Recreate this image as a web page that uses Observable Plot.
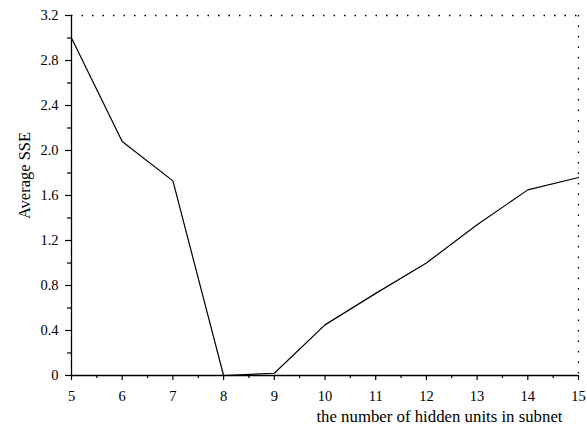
<!DOCTYPE html>
<html><head><meta charset="utf-8">
<script src="https://cdn.jsdelivr.net/npm/d3@7"></script>
<script src="https://cdn.jsdelivr.net/npm/@observablehq/plot@0.6"></script>
<style>body{margin:0;background:#fff;} svg{font-family:"Liberation Serif",serif;}</style>
</head><body><div id="chart"></div>
<script>
const hiddenUnits = [5, 6, 7, 8, 9, 10, 11, 12, 13, 14, 15];
const avgSSE = [3.0, 2.08, 1.73, 0.0, 0.02, 0.45, 0.73, 1.0, 1.34, 1.65, 1.76];
const yTicks = [0, 0.4, 0.8, 1.2, 1.6, 2.0, 2.4, 2.8, 3.2];
const yMinor = [0.2, 0.6, 1.0, 1.4, 1.8, 2.2, 2.6, 3.0];
const xTicks = [5, 6, 7, 8, 9, 10, 11, 12, 13, 14, 15];
const xMinor = [5.5, 6.5, 7.5, 8.5, 9.5, 10.5, 11.5, 12.5, 13.5, 14.5];
const data = hiddenUnits.map((x, i) => ({x, y: avgSSE[i]}));

const chart = Plot.plot({
  width: 587, height: 428,
  marginLeft: 71, marginRight: 9, marginTop: 15, marginBottom: 53,
  style: {fontFamily: "Liberation Serif, serif", fontSize: "14.5px", color: "#000", background: "#fff"},
  x: {domain: [5, 15]},
  y: {domain: [0, 3.2]},
  marks: [
    Plot.ruleY([3.2], {stroke: "#000", strokeDasharray: "1.5,9", strokeWidth: 1.3}),
    Plot.ruleX([15], {stroke: "#000", strokeDasharray: "1.5,9", strokeWidth: 1.3}),
    Plot.axisY({ticks: yTicks, tickSize: 6, tickPadding: 7, strokeWidth: 1.2, strokeOpacity: 1, tickFormat: d => d === 0 ? "0" : d.toFixed(1), label: null, fontSize: 14.5}),
    Plot.axisY({ticks: yMinor, tickSize: 4, strokeWidth: 1.2, strokeOpacity: 1, tickFormat: () => "", label: null}),
    Plot.axisX({ticks: xTicks, tickSize: 5, tickPadding: 10, strokeWidth: 1.2, strokeOpacity: 1, tickFormat: d => String(d), label: null, fontSize: 14.5}),
    Plot.axisX({ticks: xMinor, tickSize: 3, strokeWidth: 1.2, strokeOpacity: 1, tickFormat: () => "", label: null}),
    Plot.ruleX([5], {stroke: "#000", strokeWidth: 1.3}),
    Plot.ruleY([0], {stroke: "#000", strokeWidth: 1.3}),
    Plot.line(data, {x: "x", y: "y", stroke: "#000", strokeWidth: 1.2}),
    Plot.text(["Average SSE"], {frameAnchor: "left", dx: -47, dy: -20, rotate: -90, textAnchor: "middle", fontSize: 16.5}),
    Plot.text(["the number of hidden units in subnet"], {frameAnchor: "bottom-right", dy: 46, dx: -16, textAnchor: "end", fontSize: 16.8})
  ]
});
document.getElementById("chart").appendChild(chart);
</script></body></html>
